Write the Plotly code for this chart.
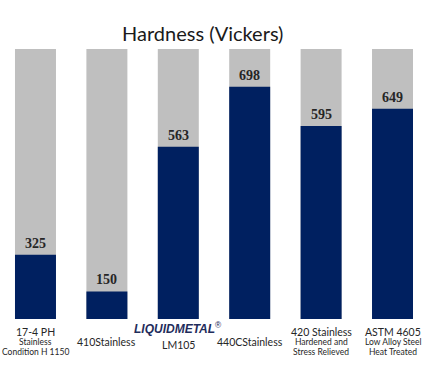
import plotly.graph_objects as go

categories = ["17-4 PH", "410Stainless", "LM105", "440CStainless", "420 Stainless", "ASTM 4605"]
label_values = [325, 150, 563, 698, 595, 649]
bar_fill_percent = [23.8, 10.2, 63.8, 86.0, 71.5, 77.9]
background_percent = [100, 100, 100, 100, 100, 100]
sub_lines = [
    ["Stainless", "Condition H 1150"],
    [],
    [],
    [],
    ["Hardened and", "Stress Relieved"],
    ["Low Alloy Steel", "Heat Treated"],
]

GRAY = "#BFBFBF"
NAVY = "#002060"
x = list(range(len(categories)))

fig = go.Figure()
fig.add_trace(go.Bar(x=x, y=background_percent, marker=dict(color=GRAY, line=dict(width=0)),
                     width=0.574, hoverinfo="skip"))
fig.add_trace(go.Bar(x=x, y=bar_fill_percent, marker=dict(color=NAVY, line=dict(width=0)),
                     width=0.574, hoverinfo="skip"))

ann = []
for i, (h, v) in enumerate(zip(bar_fill_percent, label_values)):
    ann.append(dict(x=i, y=h, xref="x", yref="y", text=f"<b>{v}</b>", showarrow=False,
                    yanchor="bottom", yshift=2,
                    font=dict(family="Liberation Serif", size=14, color="#262626")))

sub_font = dict(family="Lato", size=8.5, color="#262626")
main_font = dict(family="Lato", size=10.5, color="#262626")
for i, cat in enumerate(categories):
    subs = sub_lines[i]
    if i == 2:
        ann.append(dict(x=i, y=0, xref="x", yref="y", text="<b><i>LIQUIDMETAL</i></b><sup>®</sup>",
                        showarrow=False, yanchor="middle", yshift=-9,
                        font=dict(family="Liberation Sans", size=12, color="#1F2D5C")))
        ann.append(dict(x=i, y=0, xref="x", yref="y", text=cat, showarrow=False,
                        yanchor="middle", yshift=-26, font=main_font))
    elif subs:
        ann.append(dict(x=i, y=0, xref="x", yref="y", text=cat, showarrow=False,
                        yanchor="middle", yshift=-13, font=main_font))
        for j, s in enumerate(subs):
            ann.append(dict(x=i, y=0, xref="x", yref="y", text=s, showarrow=False,
                            yanchor="middle", yshift=-23 - 10 * j, font=sub_font))
    else:
        ann.append(dict(x=i, y=0, xref="x", yref="y", text=cat, showarrow=False,
                        yanchor="middle", yshift=-23, font=main_font))

ann.append(dict(x=202.5 / 422, y=1, xref="paper", yref="paper", text="Hardness (Vickers)",
                showarrow=False, yanchor="middle", yshift=16,
                font=dict(family="Lato", size=20, color="#1a1a1a")))

fig.update_layout(
    width=422, height=366,
    margin=dict(l=0, r=0, t=49, b=47),
    barmode="overlay",
    showlegend=False,
    plot_bgcolor="white", paper_bgcolor="white",
    xaxis=dict(range=[-0.497, 5.413], showticklabels=False, showgrid=False, zeroline=False,
               fixedrange=True),
    yaxis=dict(range=[0, 100], showticklabels=False, showgrid=False, zeroline=False,
               fixedrange=True),
    annotations=ann,
)
fig.write_html("out.html", config={"displayModeBar": False},
               post_script="document.body.style.margin='0px';document.body.style.overflow='hidden';")
